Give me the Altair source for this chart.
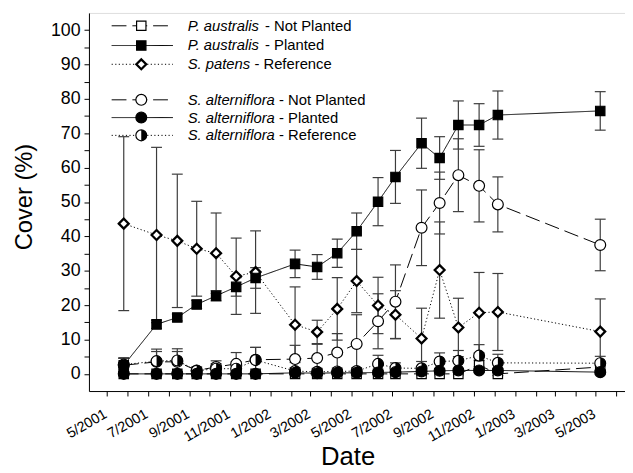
import altair as alt
import pandas as pd

# ---------------- data ----------------
dates = ["2001-05-26", "2001-07-14", "2001-08-14", "2001-09-12", "2001-10-11",
         "2001-11-10", "2001-12-09", "2002-02-06", "2002-03-11", "2002-04-10",
         "2002-05-09", "2002-06-10", "2002-07-06", "2002-08-14", "2002-09-10",
         "2002-10-08", "2002-11-08", "2002-12-06", "2003-05-08"]

pa_np = [0, 0, 0, 0, 0, 0, 0, 0, 0, 0, 0, 0, 0, 0, 0, 0, 2.5, 0.0, 2.0]
pa_np_err = [0.3, 0.3, 0.3, 0.3, 0.3, 0.3, 0.3, 0.3, 0.3, 0.3, 0.3, 0.3, 0.3, 0.3, 0.3, 0.3, 1.5, 0.5, 1.0]

pa_pl = [2.5, 14.4, 16.4, 20.2, 22.7, 25.3, 27.9, 32.0, 31.1, 35.1, 41.5, 50.1,
         57.3, 67.1, 62.8, 72.4, 72.4, 75.3, 76.5]
pa_pl_err = [2.0, 1.2, 1.0, 1.2, 1.5, 2.7, 3.0, 4.0, 3.6, 4.1, 5.3, 7.0, 7.7,
             7.3, 6.2, 7.0, 6.2, 7.0, 5.6]

sp_ref = [43.7, 40.4, 38.7, 36.4, 35.1, 28.4, 29.6, 14.3, 12.2, 18.9, 27.0, 19.9,
          17.2, 10.3, 30.2, 13.5, 17.8, 18.0, 12.3]
sp_ref_err = [25.3, 25.5, 19.4, 13.8, 11.7, 11.1, 12.0, 11.0, 3.4, 9.1, 9.2, 8.2,
              7.0, 8.8, 14.0, 8.5, 11.7, 11.2, 9.5]

sa_np = [2.5, 3.5, 3.5, 1.0, 2.0, 2.9, 4.1, 4.3, 4.6, 6.2, 8.7, 15.3, 21.0, 42.5,
         49.7, 57.8, 54.7, 49.3, 37.5]
sa_np_err = [2.0, 3.0, 3.0, 1.0, 1.8, 3.3, 3.6, 4.0, 4.0, 5.5, 8.5, 8.0, 10.7,
             11.0, 9.0, 10.6, 10.5, 8.0, 7.5]

sa_pl = [0, 0, 0, 0, 0, 0, 0, 0.3, 0.2, 0.3, 0.3, 0.4, 0.5, 0.7, 0.9, 1.0, 1.0, 1.0, 0.5]
sa_pl_err = [0.3, 0.3, 0.3, 0.3, 0.3, 0.3, 0.3, 0.5, 0.5, 0.5, 0.5, 0.5, 0.5, 0.6,
             0.6, 0.6, 0.6, 0.6, 0.5]

sa_ref = [2.7, 3.7, 3.9, 0.9, 1.5, 1.5, 4.0, 0.8, 0.6, 0.7, 0.8, 2.9, 1.7, 1.6,
          3.6, 3.8, 5.3, 3.2, 3.1]
sa_ref_err = [2.0, 3.5, 3.4, 1.0, 1.5, 2.0, 3.7, 1.0, 1.0, 1.0, 1.0, 2.5, 1.5,
              2.0, 2.5, 3.0, 3.2, 2.5, 2.0]

species = ["P. australis", "P. australis", "S. patens",
           "S. alterniflora", "S. alterniflora", "S. alterniflora"]
treatments = ["- Not Planted", "- Planted", "- Reference",
              "- Not Planted", "- Planted", "- Reference"]

# ---------------- styles ----------------
FONT = "Liberation Sans"
HALF = "M0,-1A1,1,0,0,1,0,1Z"   # right half disc
LONG_DASH = [15, 6]
DOT = [1.2, 2.4]

styles = [
    dict(vals=pa_np, err=pa_np_err, dash=LONG_DASH, shape="square", fill="white", size=90, sw=1.2),
    dict(vals=pa_pl, err=pa_pl_err, dash=[1, 0], shape="square", fill="black", size=90, sw=1.2),
    dict(vals=sp_ref, err=sp_ref_err, dash=DOT, shape="diamond", fill="white", size=100, sw=2.3),
    dict(vals=sa_np, err=sa_np_err, dash=LONG_DASH, shape="circle", fill="white", size=121, sw=1.2),
    dict(vals=sa_pl, err=sa_pl_err, dash=[1, 0], shape="circle", fill="black", size=121, sw=1.2),
    dict(vals=sa_ref, err=sa_ref_err, dash=DOT, shape="half", fill="white", size=121, sw=1.2),
]

x_scale = alt.Scale(type="utc",
                    domain=[alt.DateTime(year=2001, month=4, date=4, utc=True),
                            alt.DateTime(year=2003, month=6, date=14, utc=True)])
y_scale = alt.Scale(domain=[-5, 105], nice=False, zero=False)

x_axis = alt.Axis(
    title="Date", titleFont=FONT, titleFontSize=26, titleFontWeight="normal",
    titleColor="black", titleX=262, titleY=74, titleBaseline="alphabetic",
    tickCount={"interval": "month", "step": 1},
    labelExpr="utcmonth(datum.value) % 2 == 0 ? (utcmonth(datum.value) + 1) + '/' + utcyear(datum.value) : ''",
    labelAngle=-30, labelAlign="right", labelBaseline="top", labelFont=FONT,
    labelFontSize=14.5, labelColor="black", labelOverlap=False, labelFlush=False,
    labelPadding=11, labelOffset=-5, grid=False, tickSize=5, tickColor="black",
    domainColor="black",
)
y_axis = alt.Axis(
    title="Cover (%)", titleFont=FONT, titleFontSize=24, titleFontWeight="normal",
    titleColor="black", titleX=-58, titleY=186, titleBaseline="alphabetic",
    values=list(range(0, 101, 5)),
    labelExpr="datum.value % 10 == 0 ? datum.label : ''",
    labelFont=FONT, labelFontSize=18, labelColor="black", labelPadding=4,
    labelOverlap=False, labelFlush=False,
    grid=False, tickSize=5, tickColor="black", domainColor="black",
)

frames = []
for i, st in enumerate(styles):
    df = pd.DataFrame({"date": dates, "v": st["vals"], "e": st["err"]})
    df["lo"] = df["v"] - df["e"]
    df["hi"] = df["v"] + df["e"]
    frames.append(df)


def X():
    return alt.X("date:T", scale=x_scale, axis=x_axis)


def Y(col):
    return alt.Y(f"{col}:Q", scale=y_scale, axis=y_axis)


layers = []
# error bars
for df in frames:
    base = alt.Chart(df)
    layers.append(base.mark_rule(color="#3c3c3c", strokeWidth=1.2).encode(
        x=X(), y=Y("lo"), y2="hi:Q"))
    for col in ["lo", "hi"]:
        layers.append(base.mark_tick(orient="horizontal", color="#3c3c3c", size=11,
                                     thickness=1.2, opacity=1).encode(x=X(), y=Y(col)))
# lines
for df, st in zip(frames, styles):
    layers.append(alt.Chart(df).mark_line(color="black", strokeWidth=1,
                                          strokeDash=st["dash"]).encode(x=X(), y=Y("v")))
# points
order = [2, 3, 0, 5, 1, 4]
for idx in order:
    df, st = frames[idx], styles[idx]
    shape = "circle" if st["shape"] == "half" else st["shape"]
    layers.append(alt.Chart(df).mark_point(shape=shape, size=st["size"], filled=True,
                                           fill=st["fill"], stroke="black",
                                           strokeWidth=st["sw"], opacity=1).encode(
        x=X(), y=Y("v")))
    if st["shape"] == "half":
        layers.append(alt.Chart(df).mark_point(shape=HALF, size=st["size"], filled=True,
                                               fill="black", strokeWidth=0, opacity=1).encode(
            x=X(), y=Y("v")))

# legend (manual, drawn inside the plot at top-left)
one = pd.DataFrame({"k": [0]})
row_y = [13, 33, 52, 88, 106, 124]
name_w = {"P. australis": 74.2, "S. patens": 63.4, "S. alterniflora": 88.4}
for i, st in enumerate(styles):
    y = row_y[i]
    layers.append(alt.Chart(one).mark_rule(color="black", strokeWidth=1,
                                           strokeDash=st["dash"]).encode(
        x=alt.value(23), x2=alt.value(85), y=alt.value(y)))
    shape = "circle" if st["shape"] == "half" else st["shape"]
    layers.append(alt.Chart(one).mark_point(shape=shape, size=st["size"], filled=True,
                                            fill=st["fill"], stroke="black",
                                            strokeWidth=st["sw"], opacity=1).encode(
        x=alt.value(53), y=alt.value(y)))
    if st["shape"] == "half":
        layers.append(alt.Chart(one).mark_point(shape=HALF, size=st["size"], filled=True,
                                                fill="black", strokeWidth=0, opacity=1).encode(
            x=alt.value(53), y=alt.value(y)))
    layers.append(alt.Chart(one).mark_text(text=species[i], font=FONT, fontSize=15,
                                           fontStyle="italic", align="left",
                                           baseline="middle", color="black").encode(
        x=alt.value(100), y=alt.value(y)))
    layers.append(alt.Chart(one).mark_text(text=treatments[i], font=FONT, fontSize=15,
                                           align="left", baseline="middle",
                                           color="black").encode(
        x=alt.value(100 + name_w[species[i]] + 4.2), y=alt.value(y)))

chart = alt.layer(*layers).properties(
    width=543, height=383,
    autosize=alt.AutoSizeParams(type="none"),
    padding={"left": 82, "top": 2, "right": 0, "bottom": 80},
).configure_view(stroke="#444", strokeWidth=1).configure_axis(
    labelOverlap=False
).configure(background="white")

chart.save("out.html", embed_options={"renderer": "svg", "actions": False})
